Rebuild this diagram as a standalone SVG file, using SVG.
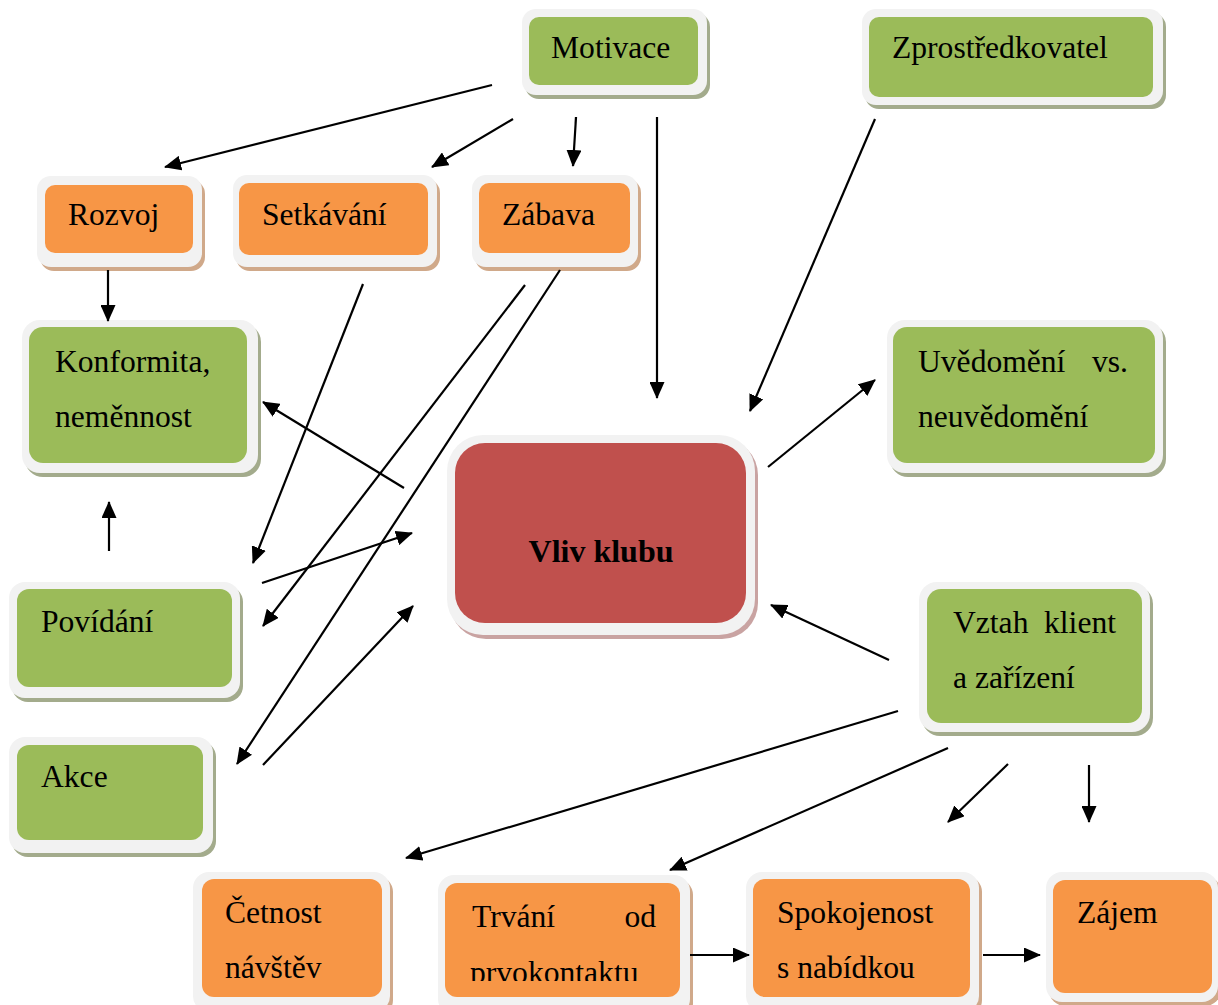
<svg xmlns="http://www.w3.org/2000/svg" width="1218" height="1005" viewBox="0 0 1218 1005">
<style>
.t{font-family:"Liberation Serif","Times New Roman",serif;font-size:31.6px;fill:#000}
.b{font-weight:bold;font-size:32px}
.o{fill:#f2f2f2}
.g{fill:#9bbb59}
.r{fill:#f79646}
.v{fill:#c0504d}
.sg{fill:#a3ab8c}
.sr{fill:#d0a98a}
.sv{fill:#c9a3a2}
.c line{stroke:#000;stroke-width:2.2;marker-end:url(#ah)}
</style>
<defs>
<marker id="ah" markerUnits="userSpaceOnUse" markerWidth="17" markerHeight="15" refX="16" refY="7.5" orient="auto">
<path d="M0,0 L17,7.5 L0,15 z" fill="#000"/>
</marker>
<clipPath id="bot"><rect x="0" y="0" width="1218" height="981"/></clipPath>
</defs>
<rect width="1218" height="1005" fill="#fff"/>

<g id="motivace">
<rect class="sg" x="525" y="13" width="185" height="86" rx="14"/>
<rect class="o" x="522" y="9" width="185" height="86" rx="14"/>
<rect class="g" x="529" y="17" width="169" height="68" rx="10"/>
<text class="t" x="551" y="58">Motivace</text>
</g>

<g id="zprostredkovatel">
<rect class="sg" x="865" y="13" width="301" height="96" rx="14"/>
<rect class="o" x="862" y="9" width="301" height="96" rx="14"/>
<rect class="g" x="869" y="17" width="284" height="80" rx="10"/>
<text class="t" x="892" y="58">Zprostředkovatel</text>
</g>

<g id="rozvoj">
<rect class="sr" x="40" y="180" width="165" height="91" rx="14"/>
<rect class="o" x="37" y="176" width="165" height="91" rx="14"/>
<rect class="r" x="45" y="185" width="148" height="68" rx="10"/>
<text class="t" x="68" y="225">Rozvoj</text>
</g>

<g id="setkavani">
<rect class="sr" x="236" y="179" width="204" height="92" rx="14"/>
<rect class="o" x="233" y="175" width="204" height="92" rx="14"/>
<rect class="r" x="239" y="183" width="189" height="72" rx="10"/>
<text class="t" x="262" y="225">Setkávání</text>
</g>

<g id="zabava">
<rect class="sr" x="475" y="179" width="166" height="92" rx="14"/>
<rect class="o" x="472" y="175" width="166" height="92" rx="14"/>
<rect class="r" x="479" y="183" width="151" height="70" rx="10"/>
<text class="t" x="502" y="225">Zábava</text>
</g>

<g id="konformita">
<rect class="sg" x="25" y="324" width="236" height="153" rx="18"/>
<rect class="o" x="22" y="320" width="236" height="153" rx="18"/>
<rect class="g" x="29" y="327" width="218" height="136" rx="14"/>
<text class="t" x="55" y="372">Konformita,</text>
<text class="t" x="55" y="427">neměnnost</text>
</g>

<g id="uvedomeni">
<rect class="sg" x="890" y="324" width="276" height="153" rx="18"/>
<rect class="o" x="887" y="320" width="276" height="153" rx="18"/>
<rect class="g" x="893" y="327" width="262" height="136" rx="14"/>
<text class="t" x="918" y="372">Uvědomění</text>
<text class="t" x="1128" y="372" text-anchor="end">vs.</text>
<text class="t" x="918" y="427">neuvědomění</text>
</g>

<g id="vliv">
<rect class="sv" x="450" y="439" width="308" height="200" rx="36"/>
<rect class="o" x="447" y="435" width="308" height="200" rx="36"/>
<rect class="v" x="455" y="443" width="291" height="180" rx="30"/>
<text class="t b" x="601" y="562" text-anchor="middle">Vliv klubu</text>
</g>

<g id="povidani">
<rect class="sg" x="12" y="586" width="231" height="116" rx="16"/>
<rect class="o" x="9" y="582" width="231" height="116" rx="16"/>
<rect class="g" x="17" y="589" width="215" height="98" rx="12"/>
<text class="t" x="41" y="632">Povídání</text>
</g>

<g id="akce">
<rect class="sg" x="12" y="741" width="204" height="116" rx="16"/>
<rect class="o" x="9" y="737" width="204" height="116" rx="16"/>
<rect class="g" x="17" y="745" width="186" height="95" rx="12"/>
<text class="t" x="41" y="787">Akce</text>
</g>

<g id="vztah">
<rect class="sg" x="922" y="586" width="231" height="150" rx="18"/>
<rect class="o" x="919" y="582" width="231" height="150" rx="18"/>
<rect class="g" x="927" y="589" width="215" height="134" rx="14"/>
<text class="t" x="953" y="633">Vztah</text>
<text class="t" x="1116" y="633" text-anchor="end">klient</text>
<text class="t" x="953" y="688">a zařízení</text>
</g>

<g id="cetnost">
<rect class="sr" x="196" y="876" width="197" height="140" rx="16"/>
<rect class="o" x="193" y="872" width="197" height="140" rx="16"/>
<rect class="r" x="202" y="879" width="180" height="118" rx="12"/>
<g clip-path="url(#bot)">
<text class="t" x="225" y="923">Četnost</text>
<text class="t" x="225" y="978">návštěv</text>
</g>
</g>

<g id="trvani">
<rect class="sr" x="441" y="879" width="252" height="140" rx="16"/>
<rect class="o" x="438" y="875" width="252" height="140" rx="16"/>
<rect class="r" x="445" y="883" width="235" height="114" rx="12"/>
<g clip-path="url(#bot)">
<text class="t" x="472" y="927">Trvání</text>
<text class="t" x="656" y="927" text-anchor="end">od</text>
<text class="t" x="470" y="983">prvokontaktu</text>
</g>
</g>

<g id="spokojenost">
<rect class="sr" x="749" y="876" width="233" height="140" rx="16"/>
<rect class="o" x="746" y="872" width="233" height="140" rx="16"/>
<rect class="r" x="753" y="879" width="217" height="118" rx="12"/>
<g clip-path="url(#bot)">
<text class="t" x="777" y="923">Spokojenost</text>
<text class="t" x="777" y="978">s nabídkou</text>
</g>
</g>

<g id="zajem">
<rect class="sr" x="1049" y="876" width="172" height="130" rx="16"/>
<rect class="o" x="1046" y="872" width="172" height="130" rx="16"/>
<rect class="r" x="1053" y="880" width="159" height="113" rx="12"/>
<text class="t" x="1077" y="923">Zájem</text>
</g>

<g id="connectors" class="c">
<line x1="492" y1="85" x2="165" y2="167"/>
<line x1="513" y1="119" x2="432" y2="167"/>
<line x1="576" y1="117" x2="573" y2="166"/>
<line x1="657" y1="117" x2="657" y2="398"/>
<line x1="875" y1="119" x2="750" y2="411"/>
<line x1="108" y1="270" x2="108" y2="321"/>
<line x1="404" y1="488" x2="263" y2="402"/>
<line x1="768" y1="467" x2="875" y2="380"/>
<line x1="363" y1="284" x2="253" y2="563"/>
<line x1="525" y1="285" x2="263" y2="626"/>
<line x1="560" y1="270" x2="237" y2="764"/>
<line x1="109" y1="551" x2="109" y2="502"/>
<line x1="262" y1="583" x2="412" y2="533"/>
<line x1="263" y1="765" x2="413" y2="606"/>
<line x1="889" y1="660" x2="771" y2="605"/>
<line x1="898" y1="711" x2="406" y2="858"/>
<line x1="948" y1="748" x2="670" y2="870"/>
<line x1="1008" y1="764" x2="948" y2="822"/>
<line x1="1089" y1="765" x2="1089" y2="822"/>
<line x1="690" y1="955" x2="749" y2="955"/>
<line x1="983" y1="955" x2="1040" y2="955"/>
</g>
</svg>
